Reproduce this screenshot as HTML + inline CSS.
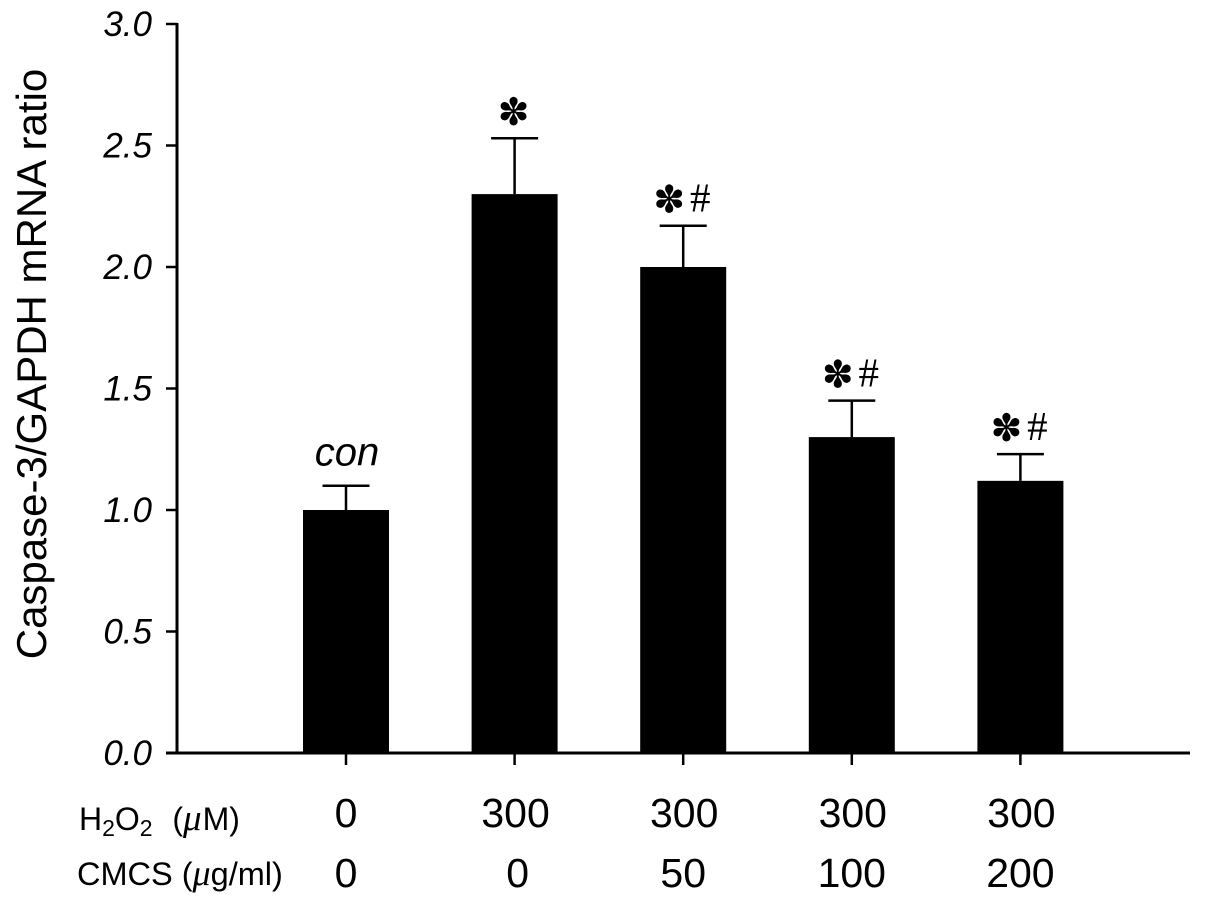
<!DOCTYPE html>
<html lang="en">
<head>
<meta charset="utf-8">
<title>Caspase-3/GAPDH mRNA ratio</title>
<style>
html,body{margin:0;padding:0;background:#fff;}
#chart{display:block;width:1205px;height:909px;font-family:"Liberation Sans",sans-serif;}
</style>
</head>
<body>
<svg id="chart" width="1205" height="909" viewBox="0 0 1205 909" xmlns="http://www.w3.org/2000/svg">
<text transform="translate(46,364) rotate(-90)" text-anchor="middle" font-size="42" fill="#000">Caspase-3/GAPDH mRNA ratio</text>
<g id="plot"></g>
<text x="79" y="830" font-size="32" fill="#000">H<tspan font-size="23" dy="6">2</tspan><tspan dy="-6">O</tspan><tspan font-size="23" dy="6">2</tspan><tspan dy="-6" dx="2" xml:space="preserve">  (</tspan><tspan font-family="Liberation Serif" font-style="italic" font-size="37">μ</tspan><tspan dx="1">M)</tspan></text>
<text x="77" y="885" font-size="32.5" fill="#000">CMCS (<tspan font-family="Liberation Serif" font-style="italic" font-size="36">μ</tspan>g/ml)</text>
</svg>
<script>
const categories = ['con', 'h2o2', 'cmcs50', 'cmcs100', 'cmcs200'];
const values = [1.0, 2.3, 2.0, 1.3, 1.12];
const errors = [0.1, 0.23, 0.17, 0.15, 0.11];
const yTicks = ['0.0', '0.5', '1.0', '1.5', '2.0', '2.5', '3.0'];
const h2o2Labels = ['0', '300', '300', '300', '300'];
const cmcsLabels = ['0', '0', '50', '100', '200'];
const annotations = [['con', ''], ['*', ''], ['*', '#'], ['*', '#'], ['*', '#']];

const NS = 'http://www.w3.org/2000/svg';
const plot = document.getElementById('plot');
const yScale = v => 753 - v * 243;
const xScale = i => 346 + i * 168.6;
const barW = 86;

function make(tag, attrs, text) {
  const el = document.createElementNS(NS, tag);
  for (const k in attrs) el.setAttribute(k, attrs[k]);
  if (text !== undefined) el.textContent = text;
  plot.appendChild(el);
  return el;
}

yTicks.forEach(t => {
  const y = yScale(parseFloat(t));
  const tick = make('line', {x1: 166, x2: 177, y1: y, y2: y, stroke: '#000', 'stroke-width': 2.5});
  
  
  const label = make('text', {x: 152, y: y + 12, 'text-anchor': 'end', 'font-size': 35, 'font-style': 'italic', fill: '#000'}, t);
  
  
});

categories.forEach((c, i) => {
  const x = xScale(i);
  const top = yScale(values[i]);
  const errTop = yScale(values[i] + errors[i]);
  const bar = make('rect', {x: x - barW / 2, y: top, width: barW, height: 753 - top, fill: '#000'});
  
  
  const stem = make('line', {x1: x, x2: x, y1: top, y2: errTop, stroke: '#000', 'stroke-width': 2.5});
  
  
  const cap = make('line', {x1: x - 23.5, x2: x + 23.5, y1: errTop, y2: errTop, stroke: '#000', 'stroke-width': 2.5});
  
  
  const xt = make('line', {x1: x, x2: x, y1: 753, y2: 765, stroke: '#000', 'stroke-width': 2.5});
  
  

  const h = make('text', {x: i === 0 ? x : x + 1, y: 827, 'text-anchor': 'middle', 'font-size': 41, fill: '#000'}, h2o2Labels[i]);
  
  
  const m = make('text', {x: i === 1 ? x + 3 : x, y: 887, 'text-anchor': 'middle', 'font-size': 41, fill: '#000'}, cmcsLabels[i]);
  
  

  const a = annotations[i];
  if (a[0] === 'con') {
    const t = make('text', {x: x + 1, y: errTop - 20, 'text-anchor': 'middle', 'font-size': 40, 'font-style': 'italic', fill: '#000'}, a[0]);
    
    
  } else {
    const sx = a[1] ? x - 14 : x - 1;
    const s = make('text', {x: sx, y: errTop - 13, 'text-anchor': 'middle', 'font-size': 38, 'font-family': 'DejaVu Sans, sans-serif', fill: '#000'}, '\u273D');
    
    
    if (a[1]) {
      const p = make('text', {x: x + 17, y: errTop - 14, 'text-anchor': 'middle', 'font-size': 41, 'font-family': 'Liberation Serif, serif', fill: '#000'}, a[1]);
      
      
    }
  }
});

const yAxis = make('line', {x1: 177, x2: 177, y1: 23, y2: 754, stroke: '#000', 'stroke-width': 3});


const xAxis = make('line', {x1: 166, x2: 1190, y1: 753, y2: 753, stroke: '#000', 'stroke-width': 3});


</script>
</body>
</html>
